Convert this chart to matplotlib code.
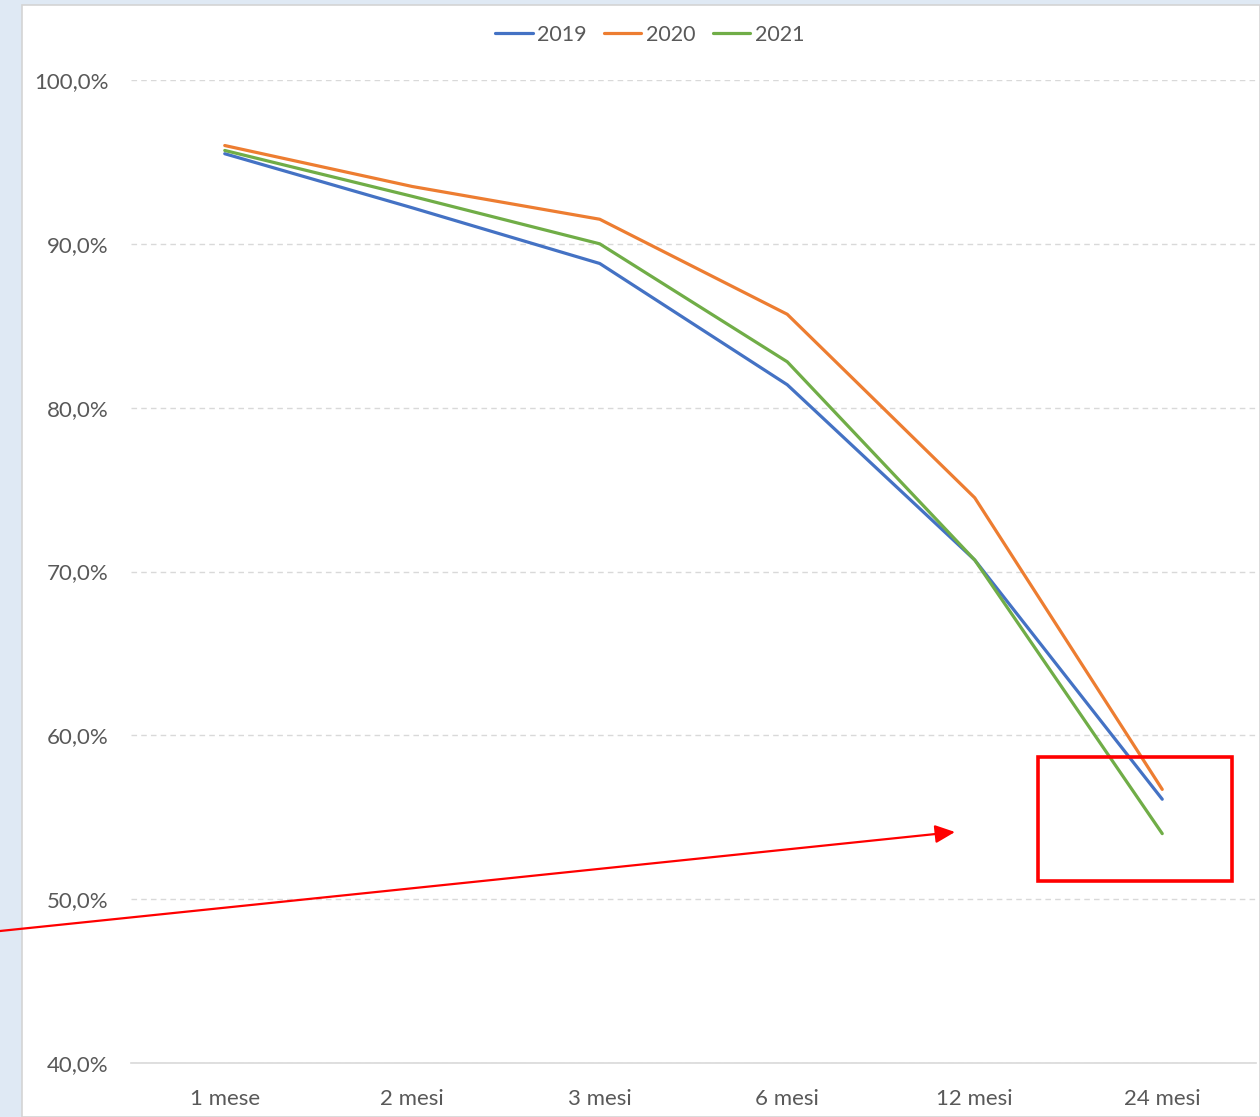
import matplotlib
matplotlib.use("Agg")
import matplotlib.pyplot as plt
from matplotlib.patches import Rectangle, FancyArrowPatch
from matplotlib.ticker import FuncFormatter

categories = ["1 mese", "2 mesi", "3 mesi", "6 mesi", "12 mesi", "24 mesi"]
years = ["2019", "2020", "2021"]
v2019 = [95.5, 92.2, 88.8, 81.4, 70.7, 56.1]
v2020 = [96.0, 93.5, 91.5, 85.7, 74.5, 56.7]
v2021 = [95.7, 92.9, 90.0, 82.8, 70.7, 54.0]
colors = ["#4472C4", "#ED7D31", "#70AD47"]

plt.rcParams['font.family'] = ['Lato', 'DejaVu Sans']
W, H = 1260, 1117
fig = plt.figure(figsize=(W / 100, H / 100), dpi=100)
fig.patch.set_facecolor("#dfe9f4")

# white chart area
fig.patches.append(Rectangle((22 / W, 0), 1 - 22 / W, (H - 5) / H, transform=fig.transFigure,
                             facecolor="white", edgecolor="#d4d4d4", linewidth=1.2, zorder=-10))

ax = fig.add_axes([131 / W, (H - 1063) / H, (1256 - 131) / W, (1063 - 80) / H])
ax.set_facecolor("none")
x = list(range(len(categories)))
for vals, c, lab in zip([v2019, v2020, v2021], colors, years):
    ax.plot(x, vals, color=c, lw=2.3, label=lab, solid_capstyle="round", zorder=3)

ax.set_xlim(-0.5, len(categories) - 0.5)
ax.set_ylim(40, 100)
ax.set_yticks([40, 50, 60, 70, 80, 90, 100])
ax.yaxis.set_major_formatter(FuncFormatter(lambda v, p: f"{v:.1f}%".replace(".", ",")))
ax.set_xticks(x)
ax.set_xticklabels(categories)
ax.tick_params(axis="both", length=0, labelsize=16, labelcolor="#595959")
ax.tick_params(axis="y", pad=16)
ax.tick_params(axis="x", pad=18.5)
for s in ["top", "right", "left"]:
    ax.spines[s].set_visible(False)
ax.spines["bottom"].set_color("#d9d9d9")
ax.spines["bottom"].set_linewidth(1.2)
ax.grid(axis="y", color="#d9d9d9", linestyle=(0, (4, 3)), linewidth=1.0, zorder=0)
ax.set_axisbelow(True)

leg = fig.legend(*ax.get_legend_handles_labels(), loc="center",
                 bbox_to_anchor=(650 / W, (H - 35) / H), ncol=3,
                 frameon=False, fontsize=15.5, handlelength=1.72, handletextpad=0.23,
                 columnspacing=0.8, labelcolor="#595959", borderpad=0)

# red annotations
fig.patches.append(Rectangle((1038 / W, (H - 881) / H), (1232 - 1038) / W, (881 - 757) / H,
                             transform=fig.transFigure, facecolor="none", edgecolor="#ff0000",
                             linewidth=2.6, zorder=10))
arrow = FancyArrowPatch((0 / W, (H - 931) / H), (955 / W, (H - 832) / H), transform=fig.transFigure,
                        arrowstyle="-|>,head_length=12,head_width=5.5", color="#ff0000",
                        linewidth=1.6, shrinkA=0, shrinkB=0, mutation_scale=1, zorder=10)
fig.patches.append(arrow)

fig.savefig("out.png", dpi=100, facecolor=fig.get_facecolor())
